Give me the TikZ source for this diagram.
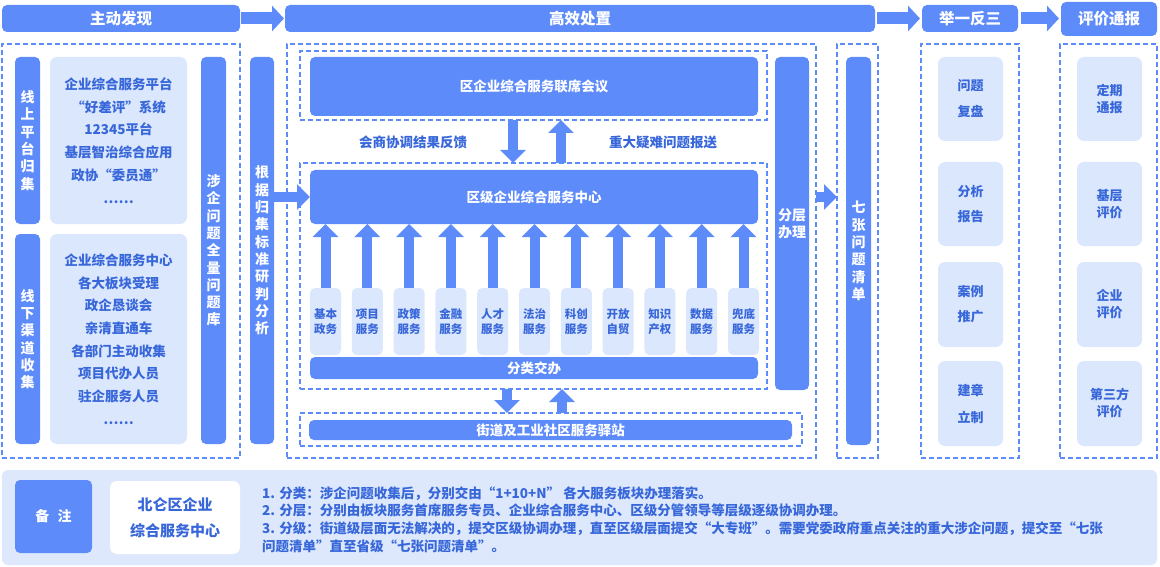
\documentclass[tikz,border=0pt]{standalone}
\usepackage{fontspec}
\setmainfont{Noto Sans CJK SC}
\usetikzlibrary{arrows.meta}
\definecolor{mainb}{RGB}{93,139,250}
\definecolor{lightb}{RGB}{219,231,253}
\definecolor{panelb}{RGB}{221,232,252}
\definecolor{textb}{RGB}{56,103,218}
\begin{document}
\begin{tikzpicture}[x=1pt,y=-1pt,
  box/.style={inner sep=0pt, outer sep=0pt, rounded corners=5pt, align=center},
  hdr/.style={box, fill=mainb, text=white, font=\bfseries\fontsize{15.5}{18}\selectfont},
  bar/.style={box, fill=mainb, text=white, font=\bfseries\fontsize{14}{17.3}\selectfont},
  wide/.style={box, fill=mainb, text=white, font=\bfseries\fontsize{13.5}{16}\selectfont},
  lbox/.style={box, rounded corners=7pt, fill=lightb, text=textb, font=\bfseries\fontsize{13.5}{22.7}\selectfont},
  svc/.style={box, rounded corners=5pt, fill=lightb, text=textb, minimum width=31pt, minimum height=67pt, font=\bfseries\fontsize{11.5}{15}\selectfont},
  rbox/.style={box, rounded corners=7pt, fill=lightb, text=textb, minimum width=65pt, font=\bfseries\fontsize{13}{#1}\selectfont},
  dframe/.style={draw=mainb, line width=2pt, dash pattern=on 5pt off 3pt, inner sep=0pt, outer sep=0pt},
  lbl/.style={text=textb, font=\bfseries\fontsize{13.5}{16}\selectfont, inner sep=0pt},
  bigarr/.style={draw=mainb, line width=10pt, -{Triangle[width=25pt,length=13pt]}},
  hdrarr/.style={draw=mainb, line width=12pt, -{Triangle[width=25pt,length=12pt]}}
]
\useasboundingbox (0,0) rectangle (1160,567);

% headers
\node[hdr, minimum width=238pt, minimum height=27pt] (h1) at (121,18.5) {主动发现};
\node[hdr, minimum width=590pt, minimum height=27pt] (h2) at (580,18.5) {高效处置};
\node[hdr, minimum width=96pt, minimum height=27pt] (h3) at (970,18.5) {举一反三};
\node[hdr, minimum width=96pt, minimum height=34pt] (h4) at (1109,19) {评价通报};
\draw[hdrarr] ([xshift=1pt]h1.east) -- ([xshift=-1pt]h2.west);
\draw[hdrarr] ([xshift=2pt]h2.east) -- ([xshift=-2pt]h3.west);
\draw[hdrarr] ([xshift=3pt]h3.east |- h3.center) -- ([xshift=-2pt]h4.west |- h3.center);

% dashed frames
\node[dframe, minimum width=238pt, minimum height=414pt] (f1) at (121,251) {};
\node[dframe, minimum width=529pt, minimum height=414pt] (f2) at (551.5,251) {};
\node[dframe, minimum width=467pt, minimum height=69pt] (f2a) at (533.5,85.5) {};
\node[dframe, minimum width=467pt, minimum height=226pt] (f2b) at (533.5,276) {};
\node[dframe, minimum width=502pt, minimum height=33pt] (f2c) at (551,429.5) {};
\node[dframe, minimum width=41pt, minimum height=414pt] (f3) at (857.5,251) {};
\node[dframe, minimum width=98pt, minimum height=414pt] (f4) at (970,251) {};
\node[dframe, minimum width=97pt, minimum height=414pt] (f5) at (1108.5,251) {};

% left column
\node[bar, minimum width=25pt, minimum height=167pt] (b1) at (27.5,140.5) {线\\上\\平\\台\\归\\集};
\node[bar, minimum width=25pt, minimum height=210pt] (b2) at (27.5,339) {线\\下\\渠\\道\\收\\集};
\node[lbox, minimum width=137pt, minimum height=167pt] (lb1) at (118.5,140.5)
  {企业综合服务平台\\“好差评”系统\\12345平台\\基层智治综合应用\\政协“委员通”\\……};
\node[lbox, minimum width=137pt, minimum height=210pt] (lb2) at (118.5,339)
  {企业综合服务中心\\各大板块受理\\政企恳谈会\\亲清直通车\\各部门主动收集\\项目代办人员\\驻企服务人员\\……};
\node[bar, minimum width=25pt, minimum height=387pt] (b3) at (213.5,250.5) {涉\\企\\问\\题\\全\\量\\问\\题\\库};
\node[bar, minimum width=24pt, minimum height=387pt] (b4) at (262,250.5) {根\\据\\归\\集\\标\\准\\研\\判\\分\\析};

% middle
\node[wide, minimum width=448pt, minimum height=59pt] (m1) at (534,86.5) {区企业综合服务联席会议};
\node[wide, minimum width=448pt, minimum height=54pt] (m2) at (534,197) {区级企业综合服务中心};
\node[wide, minimum width=448pt, minimum height=22pt] (m3) at (534,368) {分类交办};
\node[wide, minimum width=483pt, minimum height=20pt] (m4) at (550.5,430) {街道及工业社区服务驿站};
\node[lbl] (l1) at (413,142) {会商协调结果反馈};
\node[lbl] (l2) at (663,142) {重大疑难问题报送};
\draw[bigarr] ([xshift=-20.5pt]f2a.south) -- ([xshift=-20.5pt]f2b.north);
\draw[bigarr] ([xshift=27.5pt]f2b.north) -- ([xshift=27.5pt]f2a.south);
\draw[bigarr] ([xshift=-26.5pt]f2b.south) -- ([xshift=-26.5pt]f2b.south |- f2c.north);
\draw[bigarr] ([xshift=28.5pt]f2b.south |- f2c.north) -- ([xshift=28.5pt]f2b.south);
\draw[bigarr] (b4.east |- m2.west) -- (m2.west);

\foreach \a/\b [count=\i] in {基本/政务,项目/服务,政策/服务,金融/服务,人才/服务,法治/服务,科创/服务,开放/自贸,知识/产权,数据/服务,兜底/服务} {
  \pgfmathsetmacro\xx{325.5+41.8*(\i-1)}
  \node[svc] (s\i) at (\xx,321.5) {\a\\\b};
  \draw[bigarr] (s\i.north) -- (s\i.north |- m2.south);
}

\node[bar, minimum width=34pt, minimum height=333pt] (b5) at (792,223.5) {分层\\办理};
\draw[bigarr] (f2.east |- m2.center) -- (f3.west |- m2.center);
\node[bar, minimum width=25pt, minimum height=388pt] (b6) at (858.5,251) {七\\张\\问\\题\\清\\单};

% right columns
\node[rbox=26, minimum height=84pt] (r1) at (970.5,99) {问题\\复盘};
\node[rbox=25, minimum height=84pt] (r2) at (970.5,204) {分析\\报告};
\node[rbox=25, minimum height=85pt] (r3) at (970.5,304.5) {案例\\推广};
\node[rbox=27, minimum height=85pt] (r4) at (970.5,403.5) {建章\\立制};
\node[rbox=17, minimum height=84pt] (e1) at (1109.5,99) {定期\\通报};
\node[rbox=17, minimum height=84pt] (e2) at (1109.5,204) {基层\\评价};
\node[rbox=17, minimum height=85pt] (e3) at (1109.5,304.5) {企业\\评价};
\node[rbox=17, minimum height=85pt] (e4) at (1109.5,403.5) {第三方\\评价};

% bottom panel
\node[box, rounded corners=6pt, fill=panelb, minimum width=1155pt, minimum height=95pt] (panel) at (579.5,517.5) {};
\node[box, fill=mainb, text=white, minimum width=77pt, minimum height=73pt, font=\bfseries\fontsize{14}{17}\selectfont] (note) at (53.5,516.5) {备\hspace{0.6em}注};
\node[box, rounded corners=7pt, fill=white, text=textb, minimum width=130pt, minimum height=73pt, font=\bfseries\fontsize{15}{26}\selectfont] (org) at (175,517.5) {北仑区企业\\综合服务中心};
\node[lbl, anchor=west, align=left, font=\bfseries\fontsize{13.5}{17.6}\selectfont] (notes) at (262,519.5)
  {1. 分类：涉企问题收集后，分别交由“1+10+N” 各大服务板块办理落实。\\
   2. 分层：分别由板块服务首席服务专员、企业综合服务中心、区级分管领导等层级逐级协调办理。\\
   3. 分级：街道级层面无法解决的，提交区级协调办理，直至区级层面提交“大专班”。需要党委政府重点关注的重大涉企问题，提交至“七张\\
   问题清单”直至省级“七张问题清单”。};
\end{tikzpicture}
\end{document}
